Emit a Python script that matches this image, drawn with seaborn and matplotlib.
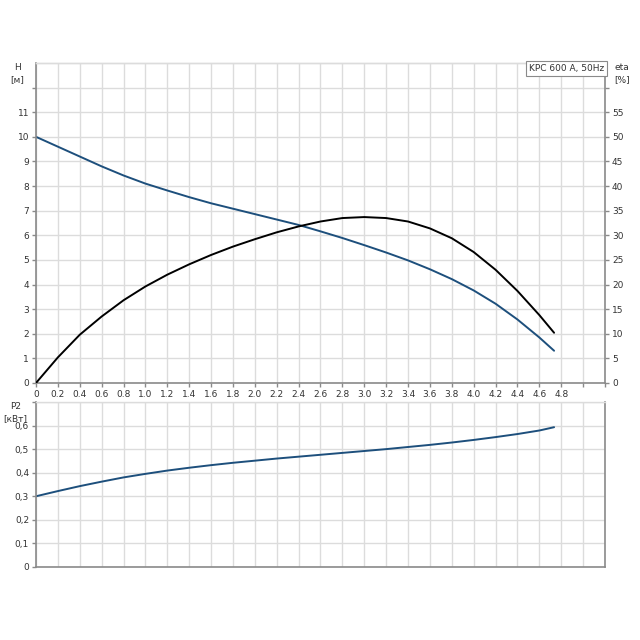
import numpy as np
import pandas as pd
import matplotlib
matplotlib.use("Agg")
import matplotlib.pyplot as plt
import seaborn as sns

# flow rate Q [l/s]
q = [0, 0.2, 0.4, 0.6, 0.8, 1.0, 1.2, 1.4, 1.6, 1.8, 2.0, 2.2, 2.4,
     2.6, 2.8, 3.0, 3.2, 3.4, 3.6, 3.8, 4.0, 4.2, 4.4, 4.6, 4.735]
# head H [m]
head = [10.0, 9.6, 9.2, 8.8, 8.43, 8.1, 7.82, 7.55, 7.3, 7.08, 6.86, 6.64, 6.42,
        6.16, 5.89, 5.6, 5.3, 4.98, 4.62, 4.22, 3.76, 3.22, 2.58, 1.85, 1.31]
# efficiency eta [%]
eta = [0, 5.2, 9.8, 13.5, 16.8, 19.6, 22.0, 24.1, 26.0, 27.7, 29.2, 30.6, 31.8,
       32.8, 33.5, 33.7, 33.5, 32.8, 31.4, 29.4, 26.6, 23.0, 18.7, 13.8, 10.2]
# power P2 [kW]
p2 = [0.3, 0.322, 0.343, 0.362, 0.38, 0.395, 0.409, 0.421, 0.432, 0.442, 0.451, 0.46, 0.468,
      0.476, 0.484, 0.492, 0.5, 0.509, 0.518, 0.528, 0.539, 0.551, 0.564, 0.579, 0.593]

x_ticks = [round(0.2 * i, 1) for i in range(25)]
x_labels = [f"{v:.1f}" if v > 0 else "0" for v in x_ticks]

df = pd.DataFrame({"Q": q, "H": head, "eta": eta, "P2": p2})

sns.set_style("white")
plt.rcParams['font.family'] = ['DejaVu Sans']

blue = "#1d4f7c"
grid_c = "#dcdcdc"
spine_c = "#8a8a8a"
txt_c = "#333333"
fs = 6.5

fig = plt.figure(figsize=(6.4, 6.4), dpi=100)
ax = fig.add_axes([0.05625, 0.4016, 0.889, 0.5])
ax2 = ax.twinx()
bx = fig.add_axes([0.05625, 0.1141, 0.889, 0.2578])

sns.lineplot(data=df, x="Q", y="H", ax=ax, color=blue, linewidth=1.4)
sns.lineplot(data=df, x="Q", y="eta", ax=ax2, color="black", linewidth=1.4)
sns.lineplot(data=df, x="Q", y="P2", ax=bx, color=blue, linewidth=1.4)

for a in (ax, bx):
    a.set_xlim(0, 5.2)
    a.set_xticks(np.arange(0, 5.21, 0.2))
    a.grid(True, color=grid_c, linewidth=1)
    a.set_axisbelow(True)
    a.set_xlabel("")
    a.set_ylabel("")

ax.set_ylim(0, 13)
ax.set_yticks(range(13))
ax.set_yticklabels([str(i) for i in range(12)] + [""])
ax2.set_ylim(0, 65)
ax2.set_yticks(range(0, 61, 5))
ax2.set_yticklabels([str(i) for i in range(0, 56, 5)] + [""])
ax2.set_ylabel("")
ax2.grid(False)

ax.set_xticklabels(x_labels + ["", ""])
bx.set_xticklabels([])
bx.set_ylim(0, 0.7)
bx.set_yticks(np.arange(0, 0.71, 0.1))
bx.set_yticklabels(["0", "0,1", "0,2", "0,3", "0,4", "0,5", "0,6", ""])

for a in (ax, ax2, bx):
    a.tick_params(axis="both", length=3, width=1, color=spine_c, labelsize=fs,
                  labelcolor=txt_c, pad=2, direction="out")
    for s in a.spines.values():
        s.set_color(spine_c)
        s.set_linewidth(1.2)
    a.spines["top"].set_color(grid_c)
    a.spines["top"].set_linewidth(1)

ax.tick_params(axis="x", length=3, bottom=True)
bx.tick_params(axis="x", length=0, bottom=False)
ax.tick_params(axis="y", left=True)
bx.tick_params(axis="y", left=True)
ax2.tick_params(axis="y", right=True)
ax.spines["right"].set_visible(False)
ax2.spines["left"].set_visible(False)
ax2.spines["bottom"].set_visible(False)

ax.text(5.06, -0.09, "Q [л/с]", transform=ax.get_xaxis_transform(), ha="center",
        va="top", fontsize=fs, color=txt_c)
ax.text(-0.033, 1.0, "H\n[м]", transform=ax.transAxes, ha="center", va="top",
        fontsize=fs, color=txt_c, linespacing=1.4)
ax2.text(1.03, 1.0, "eta\n[%]", transform=ax2.transAxes, ha="center", va="top",
         fontsize=fs, color=txt_c, linespacing=1.4)
bx.text(-0.036, 1.0, "P2\n[кВт]", transform=bx.transAxes, ha="center", va="top",
        fontsize=fs, color=txt_c, linespacing=1.4)
ax2.text(0.999, 0.997, "KPC 600 A, 50Hz", transform=ax2.transAxes, ha="right", va="top",
         fontsize=fs, color=txt_c, zorder=5,
         bbox=dict(boxstyle="square,pad=0.3", facecolor="white", edgecolor=spine_c, linewidth=0.8))

fig.savefig("out.png", dpi=100)
